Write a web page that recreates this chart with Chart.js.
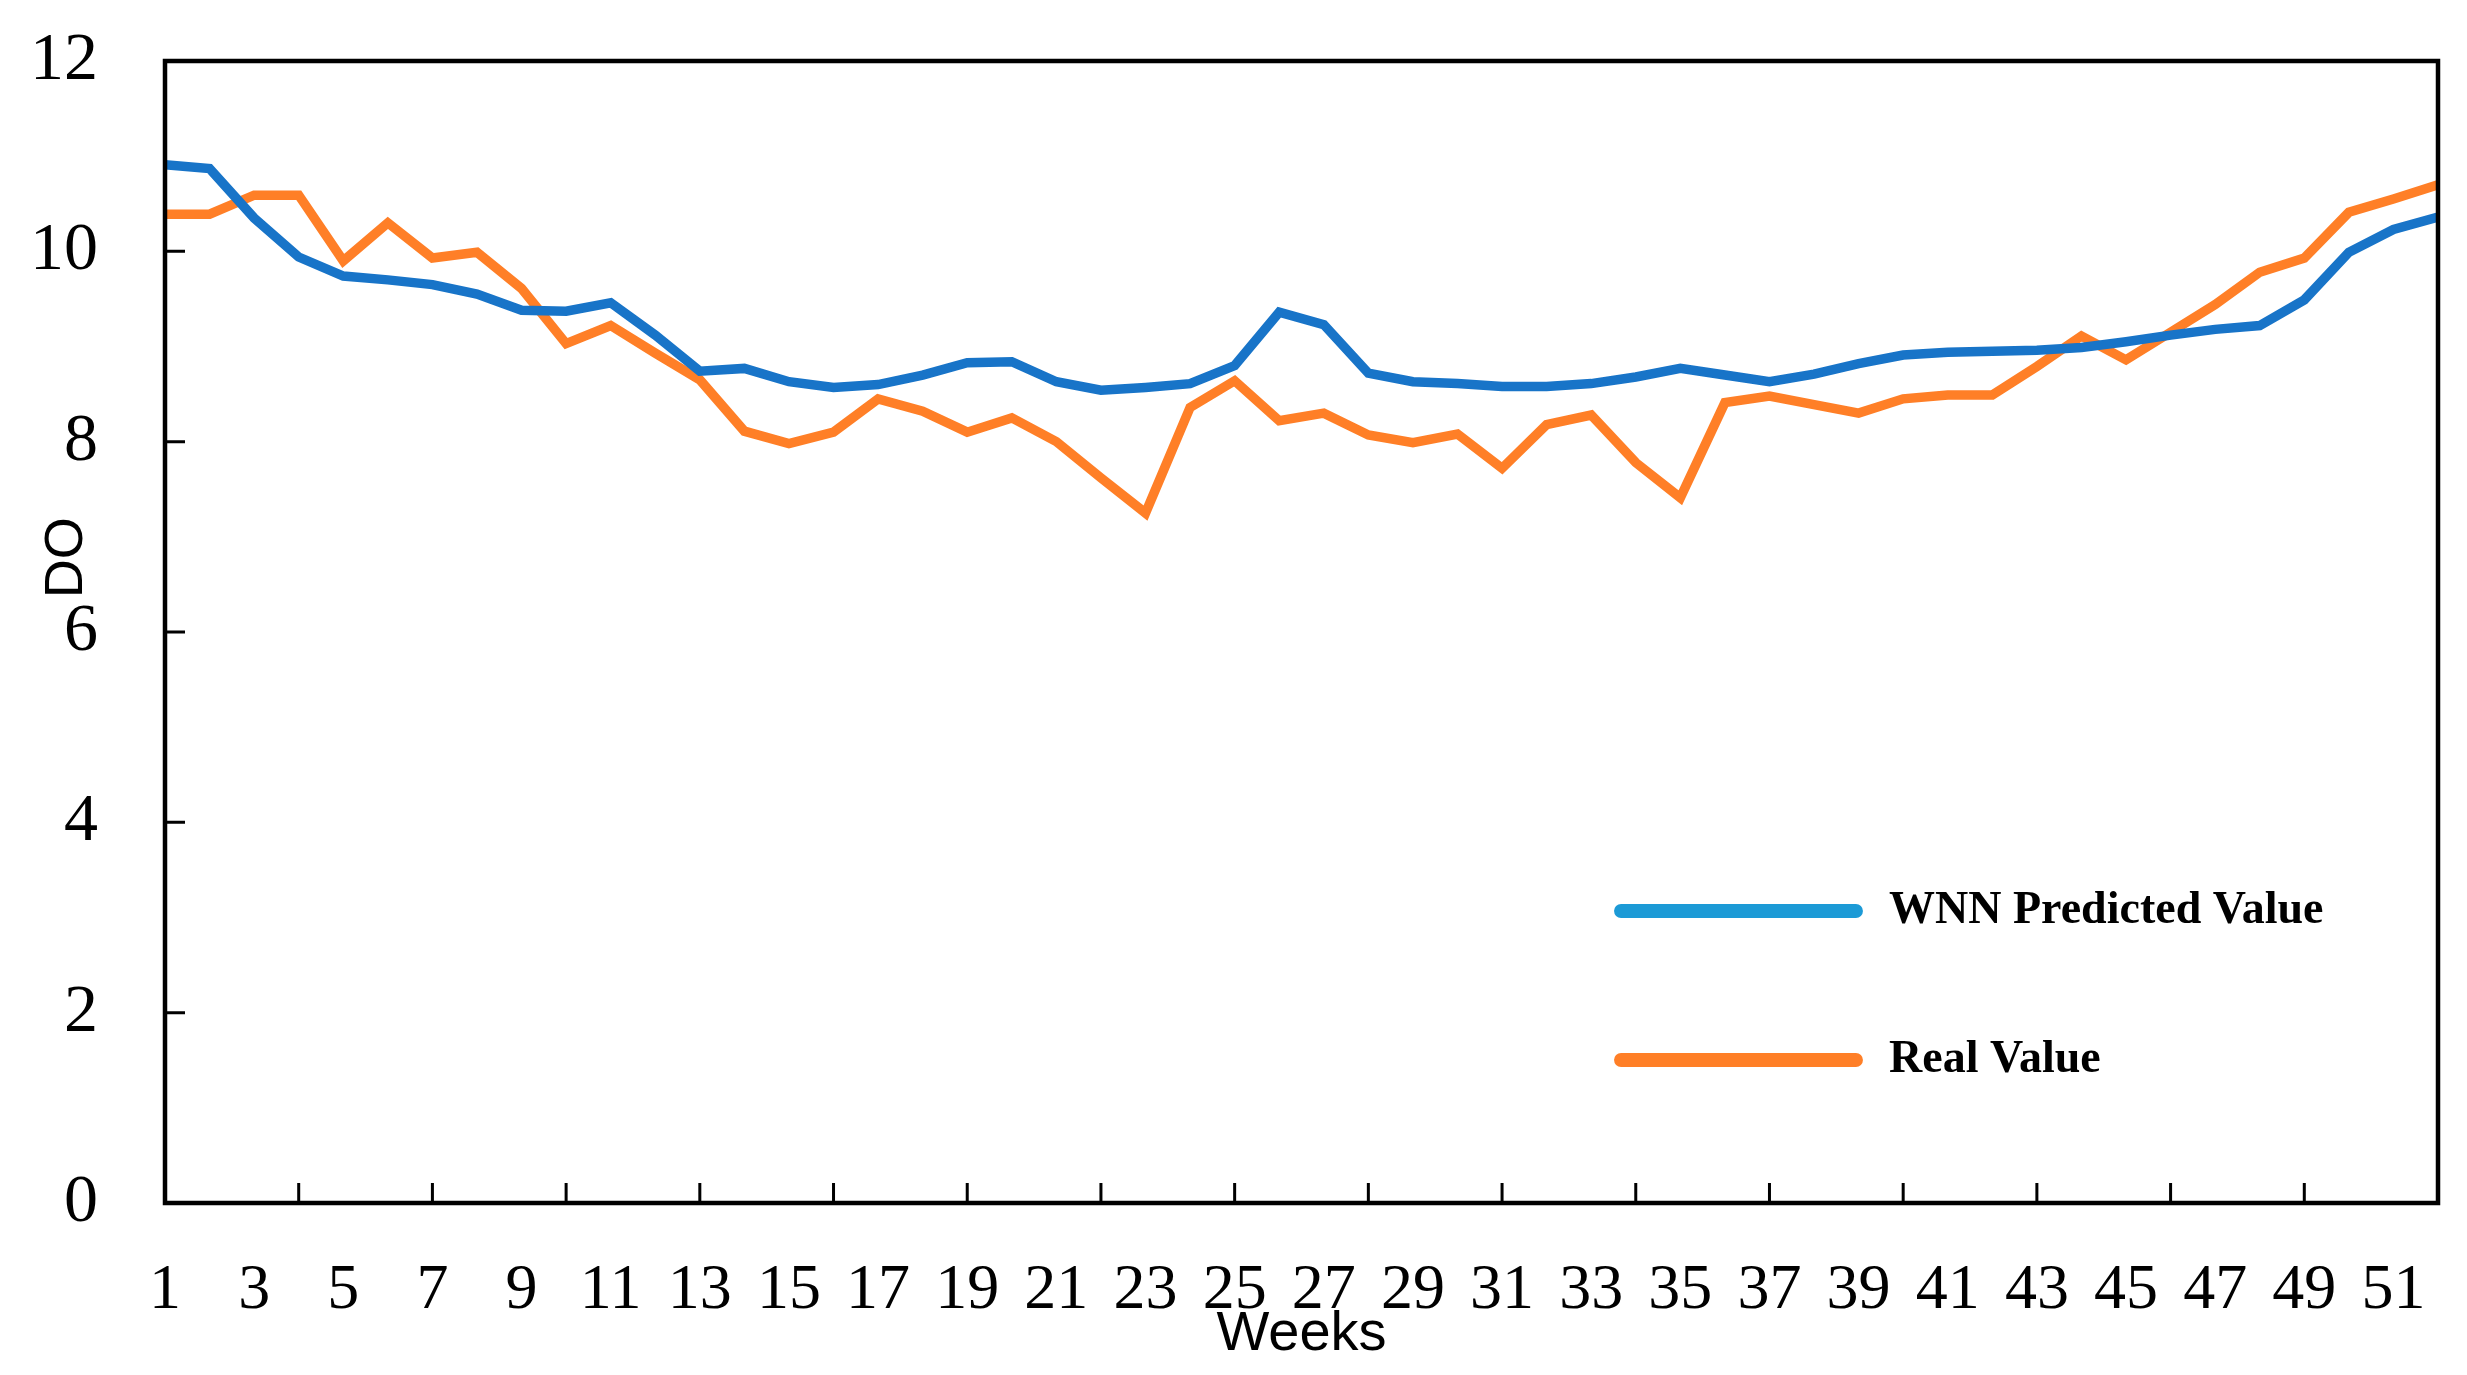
<!DOCTYPE html>
<html><head><meta charset="utf-8">
<script src="https://cdn.jsdelivr.net/npm/chart.js@4.4.1/dist/chart.umd.min.js"></script>
<style>html,body{margin:0;padding:0;background:#fff;overflow:hidden}#wrap{width:2467px;height:1375px;position:relative}</style>
</head><body><div id="wrap"><canvas id="c" width="2467" height="1375"></canvas></div>
<script>
const weeks = [1,2,3,4,5,6,7,8,9,10,11,12,13,14,15,16,17,18,19,20,21,22,23,24,25,26,27,28,29,30,31,32,33,34,35,36,37,38,39,40,41,42,43,44,45,46,47,48,49,50,51,52];
const tickWeeks = [1,3,5,7,9,11,13,15,17,19,21,23,25,27,29,31,33,35,37,39,41,43,45,47,49,51];
const tickMarkWeeks = [4,7,10,13,16,19,22,25,28,31,34,37,40,43,46,49];
const yTicks = [0,2,4,6,8,10,12];
const seriesNames = ['WNN Predicted Value','Real Value'];
const predicted = [10.91,10.87,10.35,9.94,9.74,9.70,9.65,9.55,9.38,9.37,9.46,9.12,8.74,8.77,8.63,8.57,8.60,8.70,8.83,8.84,8.63,8.54,8.57,8.61,8.80,9.36,9.23,8.72,8.63,8.61,8.58,8.58,8.61,8.68,8.77,8.70,8.63,8.71,8.82,8.91,8.94,8.95,8.96,8.99,9.05,9.12,9.18,9.22,9.49,9.99,10.23,10.36];
const real = [10.39,10.39,10.59,10.59,9.90,10.30,9.93,9.99,9.61,9.03,9.22,8.93,8.65,8.11,7.98,8.10,8.45,8.32,8.10,8.25,8.00,7.62,7.25,8.36,8.64,8.22,8.30,8.07,7.99,8.08,7.72,8.18,8.28,7.78,7.41,8.41,8.48,8.39,8.30,8.45,8.49,8.49,8.79,9.11,8.86,9.15,9.44,9.78,9.93,10.41,10.55,10.70];

const lineColors = ['#1874C8','#FF7F27'];
const legendColors = ['#1C9AD6','#FF7F27'];

const zeroPad = s => { s.paddingTop = 0; s.paddingBottom = 0; s.paddingLeft = 0; s.paddingRight = 0; };

const decor = {
  id: 'decor',
  afterDatasetsDraw(chart) {
    const {ctx, chartArea: a, scales: {x, y}} = chart;
    const w = a.right - a.left, h = a.bottom - a.top;
    ctx.save();
    // inward tick marks
    ctx.strokeStyle = '#000'; ctx.lineWidth = 3; ctx.lineCap = 'butt';
    ctx.beginPath();
    yTicks.forEach(v => {
      if (v > y.min && v < y.max) { const p = y.getPixelForValue(v); ctx.moveTo(a.left, p); ctx.lineTo(a.left + 20, p); }
    });
    tickMarkWeeks.forEach(wk => { const p = x.getPixelForValue(wk); ctx.moveTo(p, a.bottom); ctx.lineTo(p, a.bottom - 20); });
    ctx.stroke();
    // frame
    ctx.lineWidth = 4.5;
    ctx.strokeRect(a.left, a.top, w, h);
    // legend
    const rows = [0.7443, 0.8748];
    const x0 = a.left + 0.6375 * w, x1 = a.left + 0.747 * w, tx = a.left + 0.7585 * w;
    chart.data.datasets.forEach((ds, i) => {
      const yy = a.top + rows[i] * h;
      ctx.strokeStyle = legendColors[i]; ctx.lineWidth = 14; ctx.lineCap = 'round';
      ctx.beginPath(); ctx.moveTo(x0 + 7, yy); ctx.lineTo(x1 - 7, yy); ctx.stroke();
      ctx.fillStyle = '#000'; ctx.font = 'bold 46px "Liberation Serif"';
      ctx.textAlign = 'left'; ctx.textBaseline = 'middle';
      ctx.fillText(ds.label, tx, yy);
    });
    // y-axis title
    ctx.translate(a.left - 98, a.top + 0.435 * h);
    ctx.rotate(-Math.PI / 2);
    ctx.fillStyle = '#000'; ctx.font = '54px "Liberation Sans"';
    ctx.textAlign = 'center'; ctx.textBaseline = 'middle';
    ctx.fillText('DO', 0, 0);
    ctx.restore();
  }
};

new Chart(document.getElementById('c'), {
  type: 'line',
  data: {
    datasets: [
      { label: seriesNames[0], data: weeks.map((wk, i) => ({x: wk, y: predicted[i]})), borderColor: lineColors[0], backgroundColor: lineColors[0], borderWidth: 9.5, pointRadius: 0, tension: 0, borderJoinStyle: 'miter', borderCapStyle: 'butt' },
      { label: seriesNames[1], data: weeks.map((wk, i) => ({x: wk, y: real[i]})), borderColor: lineColors[1], backgroundColor: lineColors[1], borderWidth: 9.5, pointRadius: 0, tension: 0, borderJoinStyle: 'miter', borderCapStyle: 'butt' }
    ]
  },
  options: {
    responsive: false, animation: false, devicePixelRatio: 1,
    layout: { padding: { top: 61, right: 29, left: 0, bottom: 0 } },
    plugins: { legend: { display: false }, tooltip: { enabled: false } },
    scales: {
      x: {
        type: 'linear', min: weeks[0], max: weeks[weeks.length - 1],
        afterBuildTicks: s => { s.ticks = tickWeeks.map(v => ({ value: v })); },
        afterFit: s => { s.height = 172; zeroPad(s); },
        grid: { display: false, drawTicks: false },
        border: { display: false },
        ticks: { autoSkip: false, maxRotation: 0, padding: 50, color: '#000', font: { family: '"Liberation Serif"', size: 64 } },
        title: { display: true, text: 'Weeks', color: '#000', font: { family: '"Liberation Sans"', size: 56 }, padding: { top: 0, bottom: 7 } }
      },
      y: {
        min: 0, max: 12,
        afterBuildTicks: s => { s.ticks = yTicks.map(v => ({ value: v })); },
        afterFit: s => { s.width = 165; zeroPad(s); },
        grid: { display: false, drawTicks: false },
        border: { display: false },
        ticks: { padding: 67, color: '#000', font: { family: '"Liberation Serif"', size: 68 } }
      }
    }
  },
  plugins: [decor]
});
</script></body></html>
